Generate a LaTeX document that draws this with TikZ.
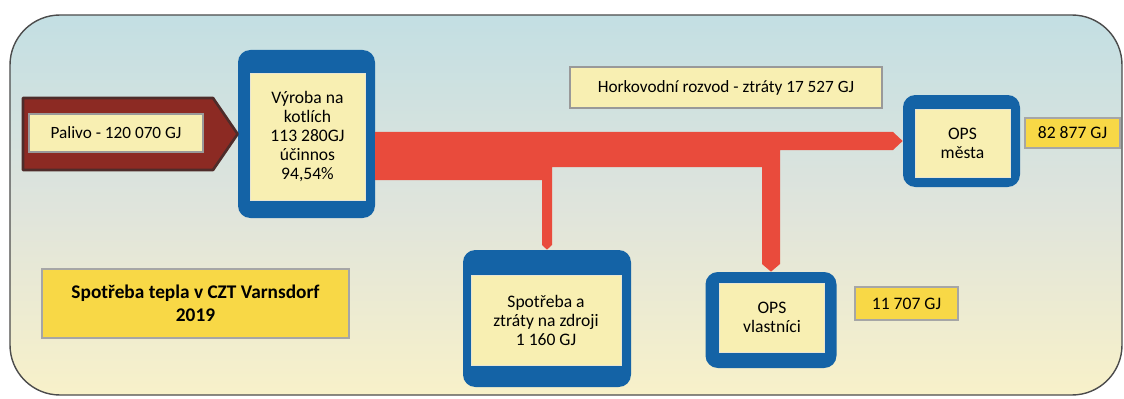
\documentclass[tikz,border=0pt]{standalone}
\usepackage{fontspec}
\setmainfont{Carlito}
\usetikzlibrary{positioning}

\definecolor{panelblue}{HTML}{C3DFE3}
\definecolor{panelgrey}{HTML}{DFE4DC}
\definecolor{panelyellow}{HTML}{F8F1C9}
\definecolor{frameblue}{HTML}{1463A6}
\definecolor{fuelred}{HTML}{8C2A23}
\definecolor{fuelrim}{HTML}{4E2C2A}
\definecolor{flowred}{HTML}{E94B3C}
\definecolor{paleyellow}{HTML}{F8EFB2}
\definecolor{gold}{HTML}{F8D846}

\begin{document}
\begin{tikzpicture}[
    panel/.style={draw=black!70, line width=0.8pt, rounded corners=1cm,
                  top color=panelblue, bottom color=panelyellow, middle color=panelgrey},
    frame/.style={rectangle, rounded corners=7pt, fill=frameblue, inner sep=0pt},
    inbox/.style={rectangle, fill=paleyellow, draw=paleyellow!80!black!40, line width=0.3pt,
                  align=center, inner sep=0pt, font=\fontsize{10}{10.8}\selectfont},
    note/.style={rectangle, fill=paleyellow, draw=black!40, line width=0.6pt,
                 inner sep=0pt, font=\fontsize{9.8}{11}\selectfont},
    tag/.style={rectangle, fill=gold, draw=black!35, line width=0.6pt,
                inner sep=0pt, font=\fontsize{10}{12}\selectfont},
    fuel/.style={fill=fuelred, draw=fuelrim, line width=1.5pt, line join=round},
    flow/.style={fill=flowred}
]
    \useasboundingbox (0,0) rectangle (22.48,7.96);

    % Background panel
    \path[panel] (0.2,0.06) rectangle (22.44,7.66);

    % Boiler house
    \node[frame, minimum width=2.74cm, minimum height=3.36cm] (vyroba) at (6.13,5.28) {};
    \node[inbox, minimum width=2.3cm, minimum height=2.54cm] (vyrobaTxt) at (6.15,5.23)
        {Výroba na\\kotlích\\113 280GJ\\účinnos\\94,54\%};

    % Consumers
    \node[frame, minimum width=3.36cm, minimum height=2.74cm] (spotreba) at (10.94,1.59) {};
    \node[inbox, minimum width=3.0cm, minimum height=1.8cm] (spotrebaTxt) at (10.92,1.56)
        {Spotřeba a\\ztráty na zdroji\\1 160 GJ};

    \node[frame, minimum width=2.62cm, minimum height=1.92cm] (opsVl) at (15.42,1.56) {};
    \node[inbox, minimum width=2.1cm, minimum height=1.38cm] (opsVlTxt) at (15.44,1.61)
        {OPS\\vlastníci};

    \node[frame, minimum width=2.34cm, minimum height=1.84cm] (opsMesta) at (19.23,5.14) {};
    \node[inbox, minimum width=1.9cm, minimum height=1.36cm] (opsMestaTxt) at (19.25,5.10)
        {OPS\\města};

    % Fuel input
    \draw[fuel] (0.46,6.0) -- (4.26,6.0) -- (vyroba.west) -- (4.26,4.56) -- (0.46,4.56) -- cycle;
    \node[note, minimum width=3.48cm, minimum height=0.76cm] (palivo) at (2.32,5.30)
        {Palivo - 120 070 GJ};

    % Heat distribution
    \fill[flow] (7.50,5.32) -- (17.86,5.32) -- (opsMesta.west) -- (17.86,4.96)
        -- (15.60,4.96) -- (15.60,2.68) -- (opsVl.north) -- (15.24,2.68)
        -- (15.24,4.62) -- (11.04,4.62) -- (11.04,3.06) -- (spotreba.north)
        -- (10.84,3.06) -- (10.84,4.36) -- (7.50,4.36) -- cycle;

    % Labels
    \node[note, minimum width=6.24cm, minimum height=0.82cm] (rozvod) at (14.52,6.21)
        {Horkovodní rozvod - ztráty 17 527 GJ};
    \node[tag, minimum width=1.9cm, minimum height=0.6cm] (mestaGJ) at (21.45,5.30) {82 877 GJ};
    \node[tag, minimum width=2.06cm, minimum height=0.66cm] (vlastGJ) at (18.13,1.89) {11 707 GJ};
    \node[tag, minimum width=6.14cm, minimum height=1.38cm, align=center,
          font=\bfseries\fontsize{11}{13}\selectfont] (nadpis) at (3.91,1.89)
        {Spotřeba tepla v CZT Varnsdorf\\2019};

\end{tikzpicture}
\end{document}
